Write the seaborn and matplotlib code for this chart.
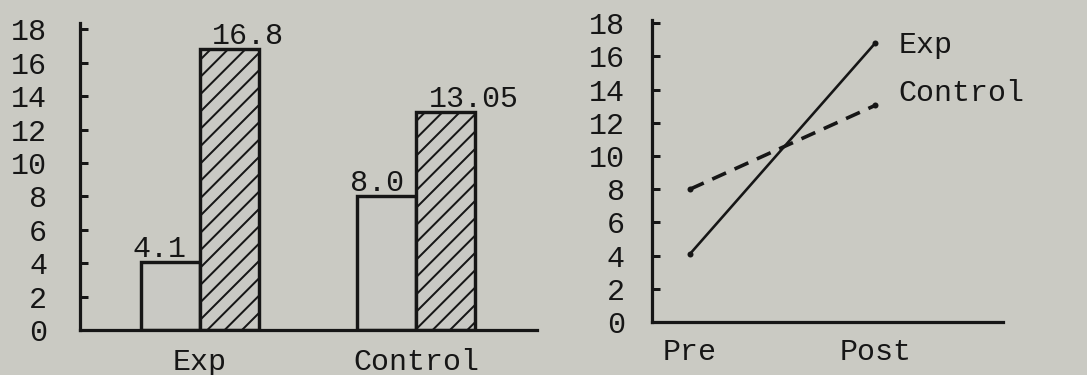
import numpy as np
import pandas as pd
import seaborn as sns
import matplotlib.pyplot as plt

# values
groups = ["Exp", "Control"]
times = ["Pre", "Post"]
exp_scores = [4.1, 16.8]
control_scores = [8.0, 13.05]
exp_labels = ["4.1", "16.8"]
control_labels = ["8.0", "13.05"]
yticks = list(range(0, 19, 2))

bg = "#cacac3"
ink = "#161616"
DPI = 104
PX = 72 / DPI  # points per pixel

sns.set_theme(style="white")
plt.rcParams["font.family"] = ["Liberation Mono", "DejaVu Sans Mono"]
plt.rcParams["hatch.linewidth"] = 2 * PX
plt.rcParams["hatch.color"] = ink
FS = 30 * PX

df = pd.DataFrame({
    "group": np.repeat(groups, 2),
    "time": times * 2,
    "score": exp_scores + control_scores,
})

fig = plt.figure(figsize=(1087 / DPI, 375 / DPI), dpi=DPI, facecolor=bg)
ax1 = fig.add_axes([0.0736, 0.12, 0.4204, 0.8195])
ax2 = fig.add_axes([0.5998, 0.1413, 0.3229, 0.8056])


def style_axes(ax, ypad, xpad):
    ax.set_facecolor(bg)
    for side in ["top", "right"]:
        ax.spines[side].set_visible(False)
    for side in ["left", "bottom"]:
        ax.spines[side].set_linewidth(3.2 * PX)
        ax.spines[side].set_color(ink)
    ax.set_yticks(yticks)
    ax.tick_params(axis="y", direction="in", length=8 * PX, width=3 * PX,
                   color=ink, pad=ypad * PX, labelsize=FS, labelcolor=ink, left=True)
    ax.tick_params(axis="x", length=0, pad=xpad * PX, labelsize=FS, labelcolor=ink)
    ax.set_xlabel("")
    ax.set_ylabel("")


# --- left: bar chart ---
sns.barplot(data=df, x="group", y="score", hue="time", hue_order=times,
            order=groups, width=0.546, gap=0, dodge=True,
            palette=[bg, bg], edgecolor=ink, linewidth=3.4 * PX,
            legend=False, ax=ax1)
for bar in ax1.containers[1]:
    bar.set_hatch("//")

# label nudges in px (dx) for each bar: Exp pre/post, Control pre/post
nudges = [[-11, 18], [-10, 28]]
labels = [exp_labels, control_labels]
for t, cont in enumerate(ax1.containers):
    for g, bar in enumerate(cont):
        x = bar.get_x() + bar.get_width() / 2
        ax1.annotate(labels[g][t], (x, bar.get_height()),
                     xytext=(nudges[g][t] * PX, 5 * PX), textcoords="offset points",
                     ha="center", va="baseline", fontsize=FS, color=ink)

ax1.set_xlim(-0.556, 1.56)
ax1.set_ylim(0, 18.4)
style_axes(ax1, 33, 18)

# --- right: line chart ---
sns.lineplot(data=df, x="time", y="score", style="group", style_order=groups,
             color=ink, dashes={"Exp": "", "Control": (4.2, 2.6)},
             markers={"Exp": "o", "Control": "o"}, markersize=6 * PX,
             markeredgewidth=0, linewidth=3.6 * PX, legend=False, ax=ax2)
ax2.lines[0].set_linewidth(2.6 * PX)

for name, scores, dy in [("Exp", exp_scores, -2), ("Control", control_scores, 12)]:
    ax2.annotate(name, (1, scores[-1]), xytext=(23 * PX, dy * PX),
                 textcoords="offset points", ha="left", va="center",
                 fontsize=FS, color=ink)

ax2.set_xlim(-0.205, 1.69)
ax2.set_ylim(0, 18.2)
style_axes(ax2, 27, 16)

fig.savefig("out.png", dpi=DPI, facecolor=bg)
